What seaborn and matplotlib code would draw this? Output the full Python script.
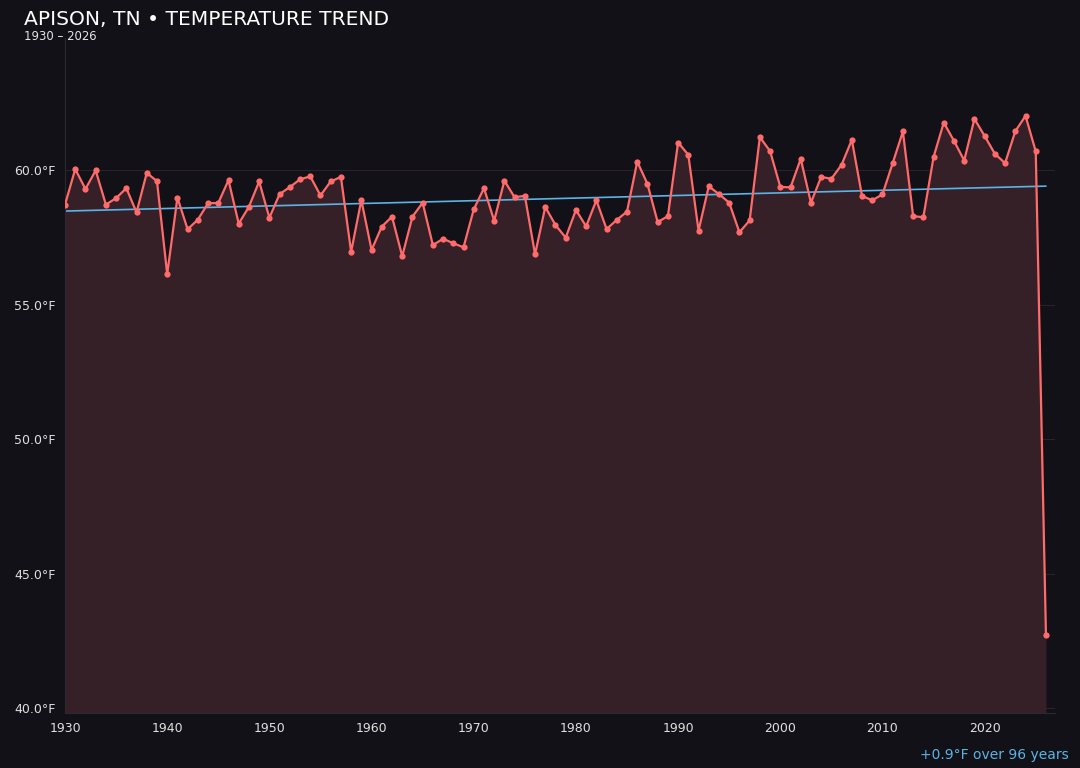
import numpy as np
import pandas as pd
import matplotlib
matplotlib.use('Agg')
import matplotlib.pyplot as plt
import seaborn as sns

# Annual mean temperature, Apison TN
years = list(range(1930, 2027))
temps = [
    58.73, 60.05, 59.31, 60.00, 58.73, 58.97, 59.34, 58.44, 59.91, 59.60,  # 1930s
    56.14, 58.99, 57.81, 58.17, 58.78, 58.79, 59.64, 58.02, 58.65, 59.59,  # 1940s
    58.24, 59.12, 59.38, 59.67, 59.78, 59.07, 59.59, 59.76, 56.97, 58.90,  # 1950s
    57.04, 57.91, 58.28, 56.81, 58.28, 58.80, 57.22, 57.46, 57.29, 57.14,  # 1960s
    58.55, 59.34, 58.13, 59.62, 59.00, 59.06, 56.88, 58.64, 57.97, 57.50,  # 1970s
    58.53, 57.92, 58.89, 57.82, 58.16, 58.47, 60.33, 59.50, 58.08, 58.30,  # 1980s
    61.04, 60.58, 57.76, 59.41, 59.12, 58.80, 57.70, 58.14, 61.24, 60.72,  # 1990s
    59.39, 59.37, 60.43, 58.80, 59.76, 59.69, 60.21, 61.14, 59.05, 58.89,  # 2000s
    59.11, 60.27, 61.45, 58.30, 58.26, 60.50, 61.78, 61.10, 60.37, 61.92,  # 2010s
    61.28, 60.62, 60.27, 61.46, 62.03, 60.71, 42.71,                       # 2020s
]
x_ticks = [1930, 1940, 1950, 1960, 1970, 1980, 1990, 2000, 2010, 2020]
y_ticks = [40, 45, 50, 55, 60]

df = pd.DataFrame({'Year': years, 'Temp': temps})

bg = '#121117'
line_color = '#ff6b6b'
trend_color = '#5ab4e6'

sns.set_theme(style='dark')
plt.rcParams['font.family'] = ['DejaVu Sans']

fig = plt.figure(figsize=(10.8, 7.68), dpi=100, facecolor=bg)
ax = fig.add_axes([0.0602, 0.0716, 0.9168, 0.8789])
ax.set_facecolor(bg)

# 15% padding above and below the data range
pad = (df.Temp.max() - df.Temp.min()) * 0.15
ymin = df.Temp.min() - pad
ymax = df.Temp.max() + pad

# filled area under the series
ax.fill_between(df.Year, df.Temp, ymin, color='#362027', zorder=1, linewidth=0)

sns.lineplot(data=df, x='Year', y='Temp', color=line_color, linewidth=1.6,
             marker='o', markersize=4.5, markeredgewidth=0, ax=ax, zorder=3)

# linear trend
slope, intercept = np.polyfit(df.Year, df.Temp, 1)
trend = slope * df.Year + intercept
ax.plot(df.Year, trend, color=trend_color, linewidth=1.2, zorder=2)

ax.set_xlim(1930, 2026.9)
ax.set_ylim(ymin, ymax)
ax.set_xticks(x_ticks)
ax.set_yticks(y_ticks)
ax.set_yticklabels([f'{t:.1f}°F' for t in y_ticks])
ax.set_xlabel('')
ax.set_ylabel('')

ax.grid(axis='y', color='#2a2329', linewidth=0.8)
ax.grid(axis='x', visible=False)
ax.tick_params(colors='#e0e0e0', labelsize=9, length=3, color='#3a3a40')
for side in ['top', 'right']:
    ax.spines[side].set_visible(False)
for side in ['left', 'bottom']:
    ax.spines[side].set_color('#2a2a30')
    ax.spines[side].set_linewidth(0.8)

fig.text(0.022, 0.974, 'APISON, TN • TEMPERATURE TREND', color='white',
         fontsize=14.6, ha='left', va='center')
fig.text(0.022, 0.952, '1930 – 2026', color='#e6e6e6', fontsize=8.4, ha='left', va='center')

change = trend.iloc[-1] - trend.iloc[0]
span = years[-1] - years[0]
fig.text(0.990, 0.017, f'{change:+.1f}°F over {span} years', color=trend_color,
         fontsize=10, ha='right', va='center')

fig.savefig('out.png', dpi=100, facecolor=bg)
